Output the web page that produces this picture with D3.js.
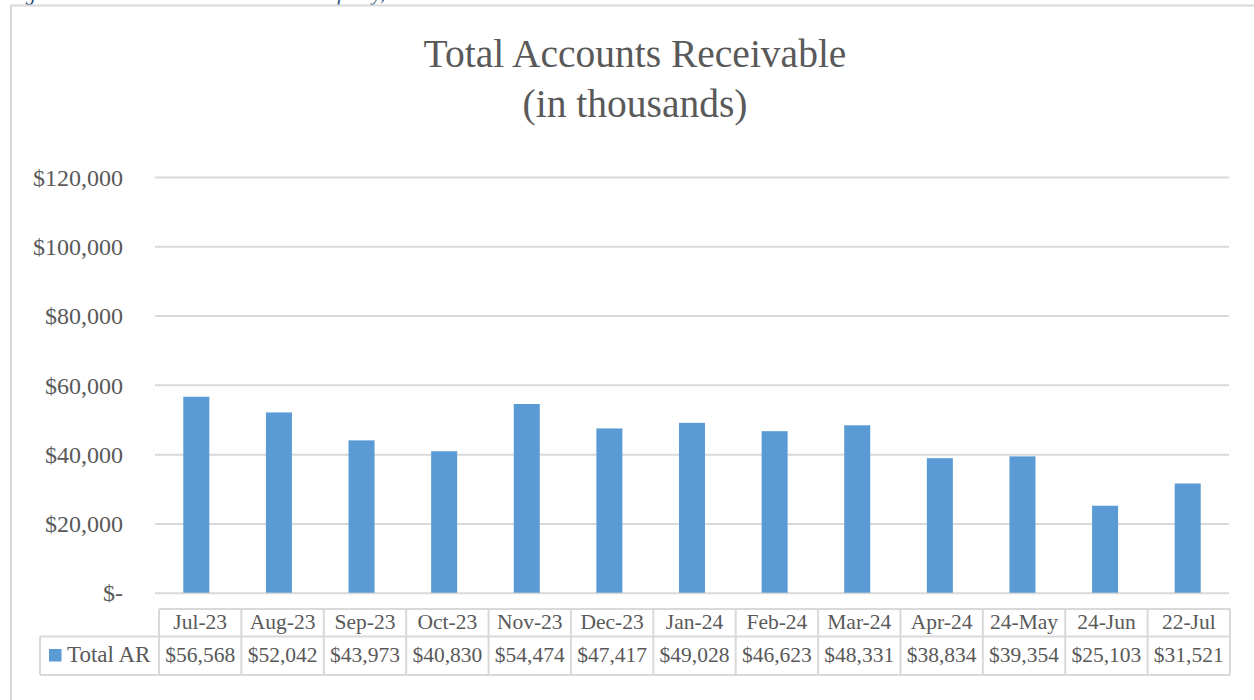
<!DOCTYPE html>
<html>
<head>
<meta charset="utf-8">
<script src="https://cdn.jsdelivr.net/npm/d3@7"></script>
<style>
  body { margin: 0; background: #fff; }
  svg text { font-family: "Liberation Serif", "Times New Roman", serif; }
</style>
</head>
<body>
<div id="chart"></div>
<script>
// data
var categories = ["Jul-23", "Aug-23", "Sep-23", "Oct-23", "Nov-23", "Dec-23", "Jan-24",
                  "Feb-24", "Mar-24", "Apr-24", "24-May", "24-Jun", "22-Jul"];
var totalAR = [56568, 52042, 43973, 40830, 54474, 47417, 49028, 46623, 48331, 38834, 39354, 25103, 31521];
var yTicks = [0, 20000, 40000, 60000, 80000, 100000, 120000];
var seriesName = "Total AR";
var titleLines = ["Total Accounts Receivable", "(in thousands)"];
var captionText = "Figure 1: Total Accounts Receivable as of July, 2024";

var W = 1254, H = 700;
var barColor = "#5b9bd5", gridColor = "#d9d9d9", textColor = "#595959";

var svg = d3.select("#chart")
            .append("svg")
            .attr("width", W)
            .attr("height", H);

// caption above the frame (mostly cut off at the top, as in the original)
svg.append("text")
   .attr("x", 8)
   .attr("y", 0)
   .style("font-style", "italic")
   .style("font-size", "20px")
   .style("fill", "#1f4e79")
   .text(captionText);

// chart frame
svg.append("rect")
   .attr("x", 11)
   .attr("y", 5.5)
   .attr("width", 1400)
   .attr("height", 900)
   .attr("fill", "none")
   .attr("stroke", gridColor)
   .attr("stroke-width", 2);

// title
svg.append("g")
   .selectAll("text")
   .data(titleLines)
   .enter()
   .append("text")
   .attr("x", 635)
   .attr("y", function(d, i) { return 67 + i * 50; })
   .attr("text-anchor", "middle")
   .style("font-size", "39.5px")
   .style("fill", textColor)
   .text(function(d) { return d; });

// scales
var plotLeft = 155, plotRight = 1229;
var x = d3.scaleBand()
          .domain(categories)
          .range([plotLeft, plotRight])
          .paddingInner(0.685)
          .paddingOuter(0.3425);

var y = d3.scaleLinear()
          .domain([0, 120000])
          .range([592.7, 177]);

var fmt = d3.format(",");
function money(v) { return v === 0 ? "$-" : "$" + fmt(v); }

// gridlines + y labels
var yAxis = svg.append("g")
   .attr("transform", "translate(" + plotLeft + ",0)")
   .call(d3.axisLeft(y).tickValues(yTicks).tickSize(-(plotRight - plotLeft)).tickPadding(32).tickFormat(money));
yAxis.select(".domain").remove();
yAxis.selectAll(".tick line")
     .attr("stroke", gridColor)
     .attr("stroke-width", 2);
yAxis.selectAll(".tick text")
     .attr("fill", textColor)
     .style("font-size", "24px")
     .attr("dy", "0.34em");

// bars
svg.append("g")
   .selectAll("rect")
   .data(totalAR)
   .enter()
   .append("rect")
   .attr("x", function(d, i) { return x(categories[i]); })
   .attr("y", function(d) { return y(d); })
   .attr("width", x.bandwidth())
   .attr("height", function(d) { return y(0) - y(d); })
   .attr("fill", barColor);

// data table
var tableLeft = 159, tableRight = 1230, legendLeft = 40;
var rowTop = 609, rowMid = 636.5, rowBottom = 675;
var col = d3.scaleBand()
            .domain(categories)
            .range([tableLeft, tableRight]);

var table = svg.append("g");
var lineStyle = function(sel) { return sel.attr("stroke", gridColor).attr("stroke-width", 2); };

table.append("line").attr("x1", tableLeft).attr("x2", tableRight).attr("y1", rowTop).attr("y2", rowTop).call(lineStyle);
table.append("line").attr("x1", legendLeft).attr("x2", tableRight).attr("y1", rowMid).attr("y2", rowMid).call(lineStyle);
table.append("line").attr("x1", legendLeft).attr("x2", tableRight).attr("y1", rowBottom).attr("y2", rowBottom).call(lineStyle);
table.append("line").attr("x1", legendLeft).attr("x2", legendLeft).attr("y1", rowMid).attr("y2", rowBottom).call(lineStyle);

table.selectAll(".vline")
     .data(categories)
     .enter()
     .append("line")
     .attr("class", "vline")
     .attr("x1", function(d) { return col(d); })
     .attr("x2", function(d) { return col(d); })
     .attr("y1", rowTop)
     .attr("y2", rowBottom)
     .call(lineStyle);
table.append("line").attr("x1", tableRight).attr("x2", tableRight).attr("y1", rowTop).attr("y2", rowBottom).call(lineStyle);

table.selectAll(".cat")
     .data(categories)
     .enter()
     .append("text")
     .attr("class", "cat")
     .attr("x", function(d) { return col(d) + col.bandwidth() / 2; })
     .attr("y", 628.5)
     .attr("text-anchor", "middle")
     .style("font-size", "21.5px")
     .style("fill", textColor)
     .text(function(d) { return d; });

table.selectAll(".val")
     .data(totalAR)
     .enter()
     .append("text")
     .attr("class", "val")
     .attr("x", function(d, i) { return col(categories[i]) + col.bandwidth() / 2; })
     .attr("y", 662)
     .attr("text-anchor", "middle")
     .style("font-size", "21.5px")
     .style("fill", textColor)
     .text(function(d) { return money(d); });

// legend key inside the table
table.append("rect")
     .attr("x", 49)
     .attr("y", 649)
     .attr("width", 12.5)
     .attr("height", 12.5)
     .attr("fill", barColor);
table.append("text")
     .attr("x", 67)
     .attr("y", 662)
     .style("font-size", "23px")
     .style("fill", textColor)
     .text(seriesName);
</script>
</body>
</html>
